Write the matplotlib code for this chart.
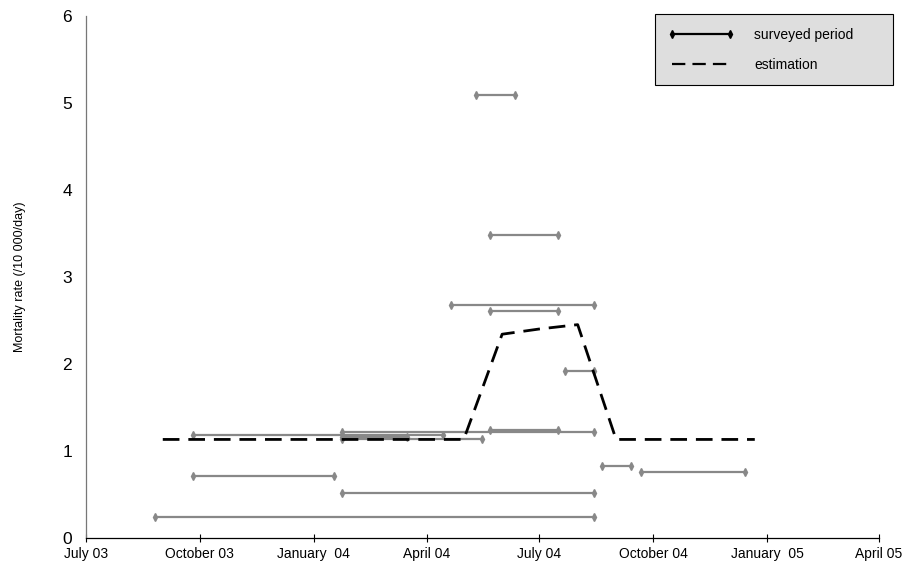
import datetime as dt
import matplotlib
matplotlib.use("Agg")
import matplotlib.pyplot as plt
from matplotlib.lines import Line2D

plt.rcParams['font.family'] = ['Liberation Sans', 'DejaVu Sans']

# surveyed periods (start, end, mortality rate)
survey_start = ["2003-08-26", "2003-09-25", "2004-01-24", "2003-09-25", "2004-01-24",
                "2004-01-24", "2004-01-24", "2004-05-22", "2004-05-11", "2004-05-22",
                "2004-04-21", "2004-05-22", "2004-07-22", "2004-08-21", "2004-09-21"]
survey_end = ["2004-08-14", "2004-01-17", "2004-08-14", "2004-04-14", "2004-03-16",
              "2004-05-16", "2004-08-14", "2004-07-16", "2004-06-11", "2004-07-16",
              "2004-08-14", "2004-07-16", "2004-08-14", "2004-09-13", "2004-12-14"]
survey_rate = [0.24, 0.71, 0.51, 1.18, 1.16,
               1.14, 1.21, 1.24, 5.09, 3.48,
               2.68, 2.61, 1.92, 0.82, 0.75]

# estimated rate
est_dates = ["2003-09-01", "2004-05-01", "2004-06-01", "2004-07-01", "2004-08-01",
             "2004-09-01", "2004-12-22"]
est_rate = [1.13, 1.13, 2.34, 2.40, 2.45, 1.13, 1.13]

tick_dates = ["2003-07-01", "2003-10-01", "2004-01-01", "2004-04-01",
              "2004-07-01", "2004-10-01", "2005-01-01", "2005-04-01"]
tick_labels = ["July 03", "October 03", "January  04", "April 04",
               "July 04", "October 04", "January  05", "April 05"]

def d(s):
    return dt.datetime.strptime(s, "%Y-%m-%d")

fig = plt.figure(figsize=(9.09, 5.69), dpi=100)
ax = fig.add_axes([0.0946, 0.055, 0.872, 0.917])

for s, e, r in zip(survey_start, survey_end, survey_rate):
    ax.plot([d(s), d(e)], [r, r], color='#888888', lw=1.6,
            marker='d', markersize=4, markerfacecolor='#888888',
            markeredgecolor='#888888', solid_capstyle='butt')

ax.plot([d(s) for s in est_dates], est_rate, color='black', lw=2.0,
        dashes=(6, 3.2))

ax.set_xlim(d(tick_dates[0]), d(tick_dates[-1]))
ax.set_ylim(0, 6)
ax.set_xticks([d(t) for t in tick_dates])
ax.set_xticklabels(tick_labels, fontsize=10)
ax.set_yticks(range(7))
ax.set_yticklabels([str(i) for i in range(7)], fontsize=12.5)
ax.tick_params(axis='y', length=0, pad=10)
ax.tick_params(axis='x', direction='inout', length=6, width=0.8, pad=4)

for side in ['top', 'right']:
    ax.spines[side].set_visible(False)
ax.spines['left'].set_color('#777777')
ax.spines['bottom'].set_color('black')
ax.spines['left'].set_linewidth(0.9)
ax.spines['bottom'].set_linewidth(0.9)

ax.set_ylabel("Mortality rate (/10 000/day)", fontsize=9, labelpad=26)

handles = [Line2D([0], [0], color='black', lw=1.6, marker='d', markersize=4),
           Line2D([0], [0], color='black', lw=1.6, dashes=(6, 3.2))]
leg = ax.legend(handles, ["surveyed period", "estimation"], loc='upper left',
                bbox_to_anchor=(0.7175, 1.003, 0.30, 0.0), mode='expand',
                numpoints=2, fontsize=10,
                handlelength=4.8, handletextpad=1.4, borderpad=0.95,
                labelspacing=1.15, fancybox=False, frameon=True,
                borderaxespad=0.0)
leg.get_frame().set_facecolor('#dedede')
leg.get_frame().set_edgecolor('black')
leg.get_frame().set_linewidth(0.8)
leg.get_frame().set_alpha(1)

fig.savefig("out.png", dpi=100)
